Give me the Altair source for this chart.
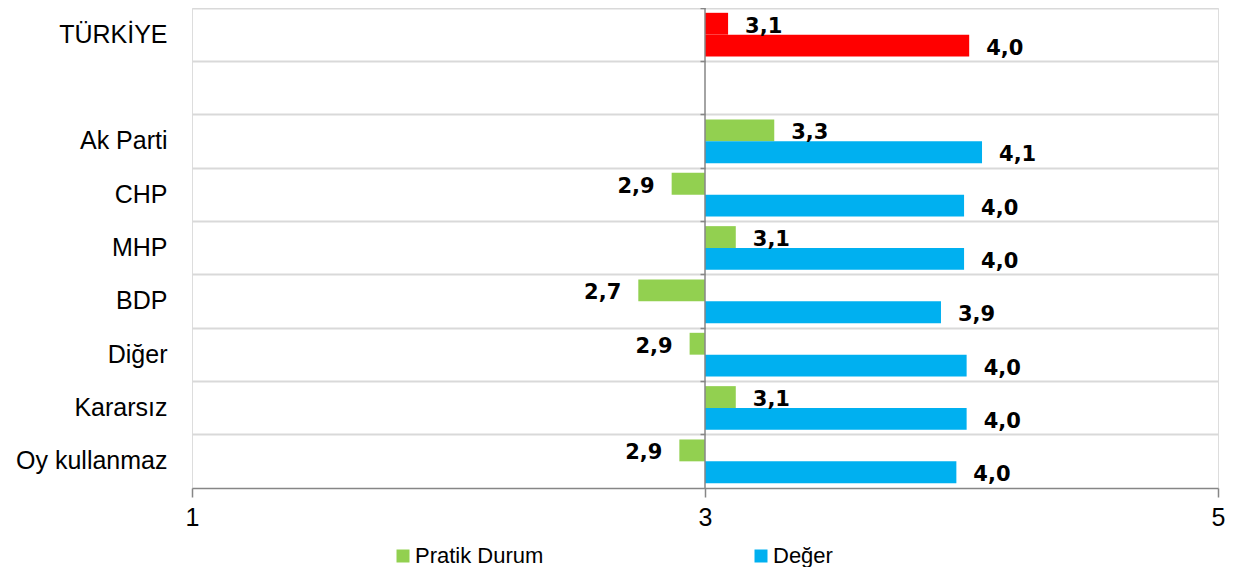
import altair as alt
import pandas as pd

categories = ["TÜRKİYE", " ", "Ak Parti", "CHP", "MHP", "BDP", "Diğer", "Kararsız", "Oy kullanmaz"]
pratik = [3.09, None, 3.27, 2.87, 3.12, 2.74, 2.94, 3.12, 2.90]
deger = [4.03, None, 4.08, 4.01, 4.01, 3.92, 4.02, 4.02, 3.98]
series = ["Pratik Durum", "Değer"]
series_colors = ["#92d050", "#00b0f0"]
highlight = "TÜRKİYE"
highlight_color = "#ff0000"
x_ticks = [1, 3, 5]
base_value = 3

rows = []
for cat, p, d in zip(categories, pratik, deger):
    for s, v in zip(series, [p, d]):
        if v is None:
            continue
        rows.append({
            "cat": cat,
            "series": s,
            "value": v,
            "ckey": highlight if cat == highlight else s,
            "label": f"{v:.1f}".replace(".", ","),
        })
df = pd.DataFrame(rows)

W, H = 1026, 480

yoff = alt.YOffset("series:N", sort=series, scale=alt.Scale(domain=series, paddingInner=0, paddingOuter=0.22))
x_scale = alt.Scale(domain=[1, 5], nice=False)

base = alt.Chart(df)

bars = base.mark_bar().encode(
    y=alt.Y("cat:N", sort=categories, scale=alt.Scale(domain=categories, paddingInner=0, paddingOuter=0),
            axis=alt.Axis(title=None, bandPosition=0, ticks=False, domain=False,
                          grid=True, gridColor="#d9d9d9", gridWidth=2, labelPadding=25,
                          labelFontSize=25, labelColor="#000000", labelFont="Liberation Sans")),
    yOffset=yoff,
    x=alt.X("value:Q", scale=x_scale,
            axis=alt.Axis(title=None, values=x_ticks, format="d", grid=False, domainColor="#868686",
                          domainWidth=1.5, tickColor="#868686", tickWidth=1.5, tickSize=9, labelPadding=8,
                          labelFontSize=25, labelColor="#000000", labelFont="Liberation Sans",
                          labelFlush=False)),
    x2=alt.datum(base_value),
    color=alt.Color("ckey:N",
                    scale=alt.Scale(domain=series + [highlight], range=series_colors + [highlight_color]),
                    legend=alt.Legend(title=None, values=series, orient="none", legendX=200, legendY=537,
                                      direction="horizontal", symbolType="square", symbolSize=169,
                                      symbolStrokeWidth=0, labelFontSize=22, labelFont="Liberation Sans",
                                      labelColor="#000000", labelOffset=1, columnPadding=206,
                                      labelLimit=300)),
)

zero_rule = alt.Chart(pd.DataFrame({"v": [base_value]})).mark_rule(color="#868686", strokeWidth=1.5).encode(
    x=alt.X("v:Q", scale=x_scale)
)

cat_ticks = alt.Chart(pd.DataFrame({"cat": categories})).mark_point(opacity=0).encode(
    y=alt.Y("cat:N", sort=categories,
            axis=alt.Axis(title=None, orient="left", offset=-(W * (base_value - 1) / 4), bandPosition=0,
                          labels=False, domain=False, grid=False, ticks=True, tickSize=5,
                          tickColor="#868686", tickWidth=1.5)),
)

pos_labels = base.transform_filter(alt.datum.value >= base_value).mark_text(
    align="left", baseline="middle", dx=17, dy=3, font="DejaVu Sans", fontWeight="bold",
    fontSize=21, color="#000000"
).encode(y=alt.Y("cat:N", sort=categories, axis=None), yOffset=yoff,
         x=alt.X("value:Q", scale=x_scale), text="label:N")

neg_labels = base.transform_filter(alt.datum.value < base_value).mark_text(
    align="right", baseline="middle", dx=-17, dy=3, font="DejaVu Sans", fontWeight="bold",
    fontSize=21, color="#000000"
).encode(y=alt.Y("cat:N", sort=categories, axis=None), yOffset=yoff,
         x=alt.X("value:Q", scale=x_scale), text="label:N")

chart = alt.layer(bars, zero_rule, cat_ticks, pos_labels, neg_labels).resolve_axis(y="independent").properties(
    width=W, height=H,
    autosize=alt.AutoSizeParams(type="none"),
    padding={"left": 184, "top": 0, "right": 12, "bottom": 79},
).configure_view(stroke="#d9d9d9", strokeWidth=2).configure(font="Liberation Sans")

chart.save("out.html", embed_options={"renderer": "svg", "actions": False})
